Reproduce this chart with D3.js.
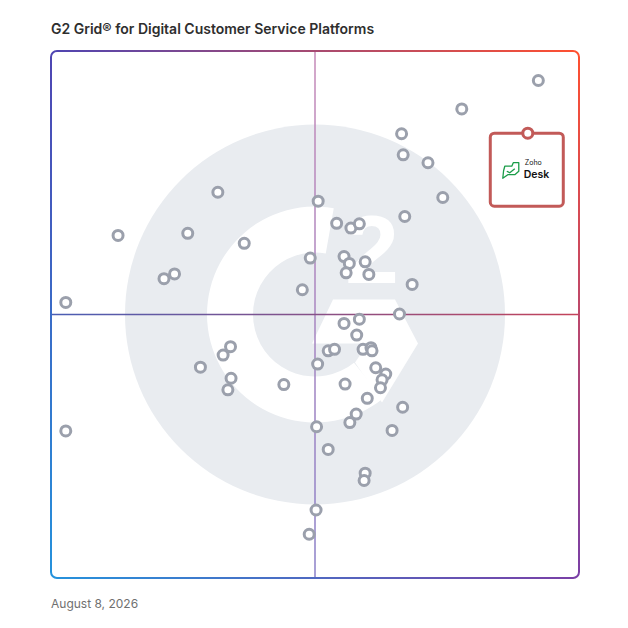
<!DOCTYPE html>
<html>
<head>
<meta charset="utf-8">
<script src="https://cdn.jsdelivr.net/npm/d3@7"></script>
<style>
  html, body { margin: 0; padding: 0; background: #ffffff; }
  svg { display: block; }
</style>
</head>
<body>
<svg id="chart" width="628" height="628"></svg>
<script>
// ---- data (0-100 scores) ----
const titleText = "G2 Grid\u00AE for Digital Customer Service Platforms";
const dateText = "August 8, 2026";

// Satisfaction (x) and Market Presence (y) for the unlabeled products
const satisfaction = [
  92.3, 77.8, 66.4, 66.7, 71.4, 74.2, 67.0, 31.6, 50.6, 54.1,
  56.8, 58.4, 12.7, 25.9, 36.6, 49.1, 55.5, 56.5, 59.5, 55.9,
  60.2, 68.4, 23.4, 21.4, 47.6, 2.8, 66.0, 58.4, 55.5, 57.9,
  52.5, 53.7, 59.1, 60.6, 60.8, 34.0, 32.6, 50.5, 28.3, 61.5,
  63.4, 62.7, 62.4, 34.1, 33.5, 44.1, 55.7, 59.9, 66.6, 57.8,
  56.6, 64.6, 2.8, 50.3, 52.5, 59.5, 59.3, 50.2, 48.9
];
const marketPresence = [
  94.4, 89.0, 84.3, 80.3, 78.8, 72.2, 68.6, 73.2, 71.5, 67.3,
  66.4, 67.2, 65.0, 65.4, 63.5, 60.7, 61.0, 59.7, 60.0, 57.9,
  57.6, 55.7, 57.7, 56.8, 54.7, 52.3, 50.1, 49.1, 48.3, 46.1,
  43.1, 43.4, 43.4, 43.7, 43.1, 43.9, 42.3, 40.6, 40.0, 39.9,
  38.7, 37.6, 36.1, 37.9, 35.7, 36.7, 36.8, 34.1, 32.4, 31.1,
  29.5, 28.0, 27.9, 28.7, 24.4, 19.9, 18.5, 12.9, 8.3
];

// Highlighted product
const featuredName = ["Zoho", "Desk"];
const featuredScore = [90.3, 84.4];

// ---- layout ----
const svg = d3.select("#chart");
const x = d3.scaleLinear().domain([0, 100]).range([51, 579]);
const y = d3.scaleLinear().domain([0, 100]).range([578, 51]);
const [x0, x1] = x.range();
const [y0, y1] = [y(100), y(0)];
const cx = x(50), cy = y(50);

const defs = svg.append("defs");
function grad(id, ax, ay, bx, by, c1, c2) {
  const g = defs.append("linearGradient").attr("id", id)
    .attr("gradientUnits", "userSpaceOnUse")
    .attr("x1", ax).attr("y1", ay).attr("x2", bx).attr("y2", by);
  g.append("stop").attr("offset", 0).attr("stop-color", c1);
  g.append("stop").attr("offset", 1).attr("stop-color", c2);
}
const cTL = "#4f45b2", cTR = "#ff5030", cBL = "#2592dc", cBR = "#7a3fa6";
grad("gTop", x0, y0, x1, y0, cTL, cTR);
grad("gBottom", x0, y1, x1, y1, cBL, cBR);
grad("gLeft", x0, y0, x0, y1, cTL, cBL);
grad("gRight", x1, y0, x1, y1, cTR, cBR);
grad("gVert", cx, y0, cx, y1, "#c68ab8", "#8a80c8");
grad("gHorz", x0, cy, x1, cy, "#4a5eb4", "#c4435a");

// ---- title ----
svg.append("text")
  .attr("x", 51).attr("y", 34)
  .attr("font-family", "Inter, 'Noto Sans', sans-serif")
  .attr("font-weight", 600)
  .attr("font-size", 14)
  .attr("fill", "#2e2e2e")
  .text(titleText);

// ---- watermark (G2 mark) ----
const wm = svg.append("g");
wm.append("circle").attr("cx", cx).attr("cy", cy).attr("r", 190).attr("fill", "#e9ecf0");
const deg = Math.PI / 180;
wm.append("path")
  .attr("transform", `translate(${cx},${cy})`)
  .attr("d", d3.arc()({ innerRadius: 62, outerRadius: 108, startAngle: 141 * deg, endAngle: 370 * deg }))
  .attr("fill", "#ffffff");
const chev = [[-3, 29], [18, -15], [80, -15], [103, 29], [67, 88], [40, 48], [53, 29]];
wm.append("path")
  .attr("transform", `translate(${cx},${cy})`)
  .attr("d", d3.line()(chev) + "Z")
  .attr("fill", "#ffffff");
wm.append("text")
  .attr("x", cx + 57).attr("y", cy - 32)
  .attr("text-anchor", "middle")
  .attr("font-family", "'Liberation Sans', Arial, sans-serif")
  .attr("font-weight", 700)
  .attr("font-size", 97)
  .attr("fill", "#ffffff")
  .text("2");

// ---- quadrant lines ----
svg.append("line").attr("x1", cx).attr("x2", cx).attr("y1", y0).attr("y2", y1)
  .attr("stroke", "url(#gVert)").attr("stroke-width", 1.5);
svg.append("line").attr("x1", x0).attr("x2", x1).attr("y1", cy).attr("y2", cy)
  .attr("stroke", "url(#gHorz)").attr("stroke-width", 1.5);

// ---- frame ----
const r = 6, sw = 2;
const frame = svg.append("g").attr("fill", "none").attr("stroke-width", sw);
frame.append("path").attr("d", `M${x0 + r},${y0}L${x1 - r},${y0}`).attr("stroke", "url(#gTop)");
frame.append("path").attr("d", `M${x0 + r},${y1}L${x1 - r},${y1}`).attr("stroke", "url(#gBottom)");
frame.append("path").attr("d", `M${x0},${y0 + r}L${x0},${y1 - r}`).attr("stroke", "url(#gLeft)");
frame.append("path").attr("d", `M${x1},${y0 + r}L${x1},${y1 - r}`).attr("stroke", "url(#gRight)");
frame.append("path").attr("d", `M${x0},${y0 + r}A${r},${r} 0 0 1 ${x0 + r},${y0}`).attr("stroke", cTL);
frame.append("path").attr("d", `M${x1 - r},${y0}A${r},${r} 0 0 1 ${x1},${y0 + r}`).attr("stroke", cTR);
frame.append("path").attr("d", `M${x1},${y1 - r}A${r},${r} 0 0 1 ${x1 - r},${y1}`).attr("stroke", cBR);
frame.append("path").attr("d", `M${x0 + r},${y1}A${r},${r} 0 0 1 ${x0},${y1 - r}`).attr("stroke", cBL);

// ---- product markers ----
const pts = satisfaction.map((v, i) => ({ sx: v, mp: marketPresence[i] }));
svg.append("g").selectAll("circle").data(pts).join("circle")
  .attr("cx", d => x(d.sx))
  .attr("cy", d => y(d.mp))
  .attr("r", 5)
  .attr("fill", "#ffffff")
  .attr("stroke", "#9ba0ac")
  .attr("stroke-width", 3);

// ---- featured product (Zoho Desk) ----
const fx = x(featuredScore[0]), fy = y(featuredScore[1]);
const card = svg.append("g");
card.append("rect")
  .attr("x", fx - 37.5).attr("y", fy)
  .attr("width", 73).attr("height", 73)
  .attr("rx", 4)
  .attr("fill", "#ffffff")
  .attr("stroke", "#c25a58")
  .attr("stroke-width", 3);
// logo icon
const ix = fx - 26, iy = fy + 28;
card.append("path")
  .attr("transform", `translate(${ix},${iy})`)
  .attr("d", "M3,5 L10,5 L11.5,1.5 L17,1.5 L17,10 L13,13.5 L6,13.5 L1,17 L1.8,9.5 Z")
  .attr("fill", "none").attr("stroke", "#1a9c48").attr("stroke-width", 1.3)
  .attr("stroke-linejoin", "round");
card.append("path")
  .attr("transform", `translate(${ix},${iy})`)
  .attr("d", "M5,10 L8,11.5 L13,7.5")
  .attr("fill", "none").attr("stroke", "#1a9c48").attr("stroke-width", 1.3);
card.append("text")
  .attr("x", fx - 3).attr("y", fy + 32)
  .attr("font-family", "Inter, 'Noto Sans', sans-serif")
  .attr("font-size", 7)
  .attr("fill", "#111")
  .text(featuredName[0]);
card.append("text")
  .attr("x", fx - 4).attr("y", fy + 44.5)
  .attr("font-family", "Inter, 'Noto Sans', sans-serif")
  .attr("font-weight", 600)
  .attr("font-size", 10.5)
  .attr("fill", "#111")
  .text(featuredName[1]);
card.append("circle")
  .attr("cx", fx).attr("cy", fy)
  .attr("r", 5)
  .attr("fill", "#ffffff")
  .attr("stroke", "#c25a58")
  .attr("stroke-width", 3);

// ---- date ----
svg.append("text")
  .attr("x", 51).attr("y", 608)
  .attr("font-family", "Inter, 'Noto Sans', sans-serif")
  .attr("font-size", 12)
  .attr("fill", "#707070")
  .text(dateText);
</script>
</body>
</html>
